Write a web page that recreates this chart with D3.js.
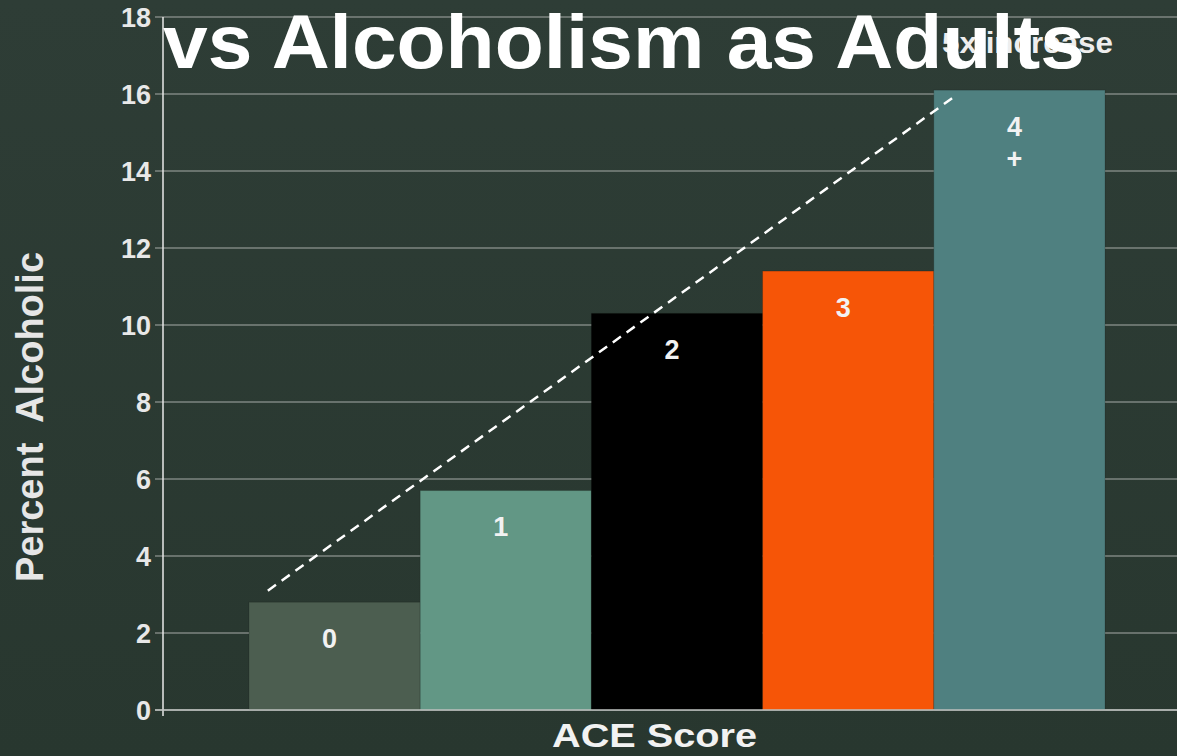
<!DOCTYPE html>
<html><head><meta charset="utf-8">
<script src="https://cdn.jsdelivr.net/npm/d3@7"></script>
<style>html,body{margin:0;padding:0;background:#2b3a33;}svg{display:block;}</style>
</head><body>
<script>
const categories = ["0", "1", "2", "3", "4"];
const barLabels = [["0"], ["1"], ["2"], ["3"], ["4", "+"]];
const values = [2.8, 5.7, 10.3, 11.4, 16.1];
const barColors = ["#4c5e50", "#629785", "#000000", "#f65507", "#4f8080"];
const yTicks = [0, 2, 4, 6, 8, 10, 12, 14, 16, 18];
const trendStart = { cat: "0", value: 3.1 };
const trendEnd = { cat: "4", value: 15.9 };
const title = "vs Alcoholism as Adults";
const annotation = "5x increase";
const yLabel = "Percent  Alcoholic";
const xLabel = "ACE Score";

(function () {
const W = 1177, H = 756;
const FONT = "Liberation Sans, Arial, sans-serif";
const svg = d3.select("body").append("svg").attr("width", W).attr("height", H);
const defs = svg.append("defs");
const grad = defs.append("linearGradient").attr("id", "bg").attr("x1", 0).attr("y1", 0).attr("x2", 0).attr("y2", 1);
grad.append("stop").attr("offset", "0%").attr("stop-color", "#2e3d36");
grad.append("stop").attr("offset", "100%").attr("stop-color", "#28372f");
svg.append("rect").attr("width", W).attr("height", H).attr("fill", "url(#bg)");

const pLeft = 163, pRight = 1177, pTop = 17, pBottom = 710;
const y = d3.scaleLinear().domain([0, 18]).range([pBottom, pTop]);
const x = d3.scaleBand().domain(categories).range([249, 1105]).paddingInner(0).paddingOuter(0);

// gridlines
svg.append("g").selectAll("line").data(yTicks).join("line")
  .attr("x1", pLeft - 8).attr("x2", pRight)
  .attr("y1", d => y(d)).attr("y2", d => y(d))
  .attr("stroke", "#9a9f9b").attr("stroke-opacity", 0.75).attr("stroke-width", 1.5);

// tick labels
svg.append("g").selectAll("text").data(yTicks).join("text")
  .attr("x", 151).attr("y", d => y(d)).attr("dy", "0.36em")
  .attr("text-anchor", "end")
  .attr("font-family", FONT).attr("font-weight", "bold")
  .attr("font-size", 27).attr("fill", "#e8e8e8")
  .text(d => d);

// bars
svg.append("g").selectAll("rect").data(values).join("rect")
  .attr("x", (d, i) => x(categories[i]))
  .attr("width", x.bandwidth())
  .attr("y", d => y(d))
  .attr("height", d => y(0) - y(d))
  .attr("fill", (d, i) => barColors[i])
  .attr("stroke", "rgba(0,0,0,0.15)").attr("stroke-width", 1);

// axis lines
svg.append("line").attr("x1", pLeft).attr("x2", pLeft).attr("y1", pTop).attr("y2", pBottom + 6)
  .attr("stroke", "#e8e8e8").attr("stroke-width", 1.5);
svg.append("line").attr("x1", pLeft - 8).attr("x2", pRight).attr("y1", pBottom).attr("y2", pBottom)
  .attr("stroke", "#bfc3c0").attr("stroke-width", 1.5);

// bar labels
const lg = svg.append("g");
barLabels.forEach((lines, i) => {
  lines.forEach((t, j) => {
    lg.append("text")
      .attr("x", x(categories[i]) + x.bandwidth() / 2 - 5)
      .attr("y", y(values[i]) + 36 + j * 32).attr("dy", "0.36em")
      .attr("text-anchor", "middle")
      .attr("font-family", FONT).attr("font-weight", "bold")
      .attr("font-size", 27).attr("fill", "#f2f2f2")
      .text(t);
  });
});

// trend line
const off = x.bandwidth() * 0.11;
svg.append("line")
  .attr("x1", x(trendStart.cat) + off).attr("y1", y(trendStart.value))
  .attr("x2", x(trendEnd.cat) + off).attr("y2", y(trendEnd.value))
  .attr("stroke", "#ffffff").attr("stroke-width", 2.5).attr("stroke-dasharray", "10,7");

// annotation
svg.append("text").attr("x", 942).attr("y", 53)
  .attr("font-family", FONT).attr("font-weight", "bold")
  .attr("font-size", 30).attr("fill", "#eeeeee")
  .attr("textLength", 171).attr("lengthAdjust", "spacingAndGlyphs")
  .text(annotation);

// title
svg.append("text").attr("x", 163).attr("y", 68)
  .attr("font-family", FONT).attr("font-weight", "bold")
  .attr("font-size", 76).attr("fill", "#ffffff")
  .attr("textLength", 922).attr("lengthAdjust", "spacingAndGlyphs")
  .text(title);

// y label
svg.append("text").attr("transform", "translate(43,417) rotate(-90)")
  .attr("text-anchor", "middle")
  .attr("font-family", FONT).attr("font-weight", "bold")
  .attr("font-size", 38).attr("fill", "#e6e6e6")
  .style("white-space", "pre")
  .text(yLabel);

// x label
svg.append("text").attr("x", 552).attr("y", 747)
  .attr("font-family", FONT).attr("font-weight", "bold")
  .attr("font-size", 33).attr("fill", "#f2f2f2")
  .attr("textLength", 205).attr("lengthAdjust", "spacingAndGlyphs")
  .text(xLabel);
})();
</script>
</body></html>
